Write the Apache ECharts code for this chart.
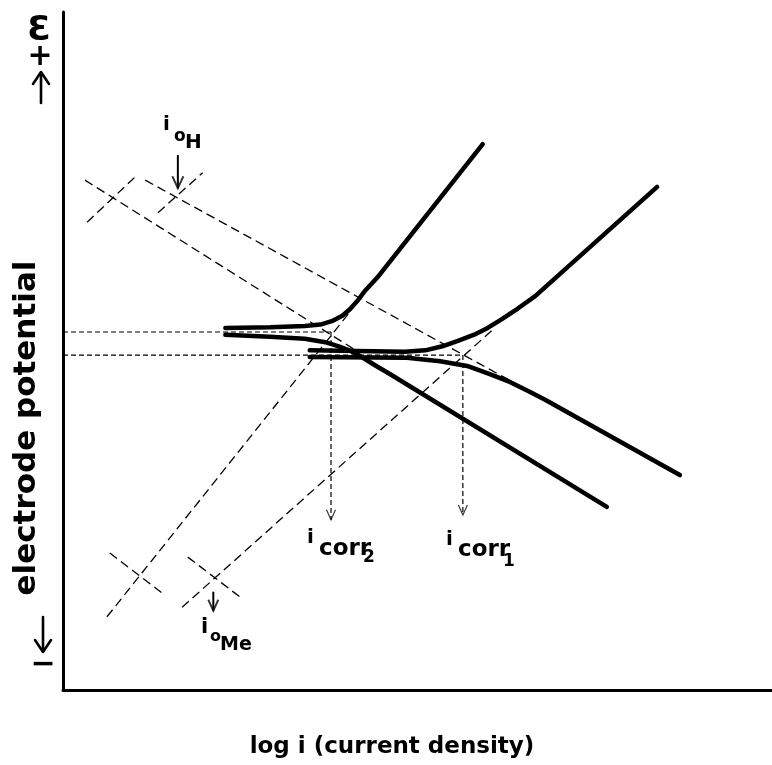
<!DOCTYPE html>
<html><head><meta charset="utf-8">
<script src="https://cdn.jsdelivr.net/npm/echarts@6/dist/echarts.min.js"></script>
<style>html,body{margin:0;padding:0;background:#fff}#c{width:772px;height:765px}</style>
</head><body><div id="c"></div>
<script>
// ---- Data (x: log i, y: electrode potential; arbitrary units) ----
// Solid polarization curves
const curveA_x = [2.29, 2.92, 3.41, 3.63, 3.79, 3.94, 4.05, 4.16, 4.27, 4.43, 5.92];
const curveA_y = [5.34, 5.35, 5.37, 5.39, 5.44, 5.52, 5.62, 5.75, 5.90, 6.08, 8.05];
const curveB_x = [2.29, 2.92, 3.41, 3.70, 3.91, 4.08, 4.23, 4.40, 4.61, 7.67];
const curveB_y = [5.24, 5.21, 5.18, 5.13, 5.06, 4.99, 4.90, 4.79, 4.66, 2.70];
const curveC_x = [3.48, 4.82, 5.11, 5.35, 5.57, 5.80, 5.99, 6.19, 6.42, 6.66, 8.38];
const curveC_y = [5.01, 4.99, 5.01, 5.07, 5.15, 5.24, 5.34, 5.47, 5.63, 5.81, 7.42];
const curveD_x = [3.48, 4.85, 5.32, 5.70, 6.02, 6.31, 6.56, 6.80, 8.70];
const curveD_y = [4.91, 4.90, 4.85, 4.78, 4.66, 4.54, 4.41, 4.28, 3.17];
// Tafel extrapolations (dashed)
const hTafel1_x = [0.31, 4.19], hTafel1_y = [7.52, 4.97];
const hTafel2_x = [1.16, 6.47], hTafel2_y = [7.52, 4.47];
const hTick1_x = [0.34, 1.02], hTick1_y = [6.90, 7.57];
const hTick2_x = [1.34, 1.97], hTick2_y = [7.04, 7.63];
const meTafel1_x = [0.62, 4.05], meTafel1_y = [1.08, 5.58];
const meTafel2_x = [1.68, 6.09], meTafel2_y = [1.22, 5.34];
const meTick1_x = [0.66, 1.41], meTick1_y = [2.02, 1.42];
const meTick2_x = [1.76, 2.51], meTick2_y = [1.96, 1.36];
// Corrosion potential / current construction lines
const ecorr2_x = [0, 3.78], ecorr2_y = [5.28, 5.28];
const ecorr1_x = [0, 5.64], ecorr1_y = [4.94, 4.94];
const icorr2_x = [3.78, 3.78], icorr2_y = [5.28, 2.51];
const icorr1_x = [5.64, 5.64], icorr1_y = [4.94, 2.58];
// Exchange current arrows
const ioH_x = [1.62, 1.62], ioH_y = [7.89, 7.40];
const ioMe_x = [2.12, 2.12], ioMe_y = [1.45, 1.17];

const zip = (xs, ys) => xs.map((x, i) => [x, ys[i]]);
const solid = (xs, ys) => ({
  type: 'line', data: zip(xs, ys), showSymbol: false, symbol: 'none', smooth: false,
  lineStyle: { color: '#000', width: 4.5, cap: 'round', join: 'round' }, silent: true, z: 5
});
const dashed = (xs, ys, dash, w) => ({
  type: 'line', data: zip(xs, ys), showSymbol: false, symbol: 'none',
  lineStyle: { color: '#000', width: w || 1.3, type: dash || [9, 5] }, silent: true, z: 3
});
const plain = (xs, ys, w) => ({
  type: 'line', data: zip(xs, ys), showSymbol: false, symbol: 'none',
  lineStyle: { color: '#000', width: w }, silent: true, z: 4
});
const head = (xs, ys, size, w) => ({
  type: 'scatter', data: [[xs[xs.length - 1], ys[ys.length - 1]]],
  symbol: 'path://M0,0L5,10L10,0', symbolSize: size, symbolOffset: [0, -size[1] / 2],
  itemStyle: { color: 'rgba(0,0,0,0)', borderColor: '#000', borderWidth: w },
  silent: true, z: 6
});

const chart = echarts.init(document.getElementById('c'), null, { renderer: 'canvas' });
const F = '"DejaVu Sans", sans-serif';
const txt = (text, x, y, size, extra) => Object.assign({
  type: 'text', x: x, y: y, silent: true,
  style: Object.assign({ text: text, font: 'bold ' + size + 'px ' + F, fill: '#000',
    align: 'left', verticalAlign: 'middle' }, extra || {})
});
const seg = (pts, w) => ({ type: 'polyline', silent: true, shape: { points: pts },
  style: { stroke: '#000', lineWidth: w, fill: null, lineCap: 'round', lineJoin: 'round' } });

chart.setOption({
  animation: false,
  backgroundColor: '#fff',
  grid: { left: 63, right: 0, top: 12, bottom: 75 },
  xAxis: { type: 'value', min: 0, max: 10, axisLine: { show: true, onZero: false, lineStyle: { color: '#000', width: 3 } },
    axisTick: { show: false }, axisLabel: { show: false }, splitLine: { show: false } },
  yAxis: { type: 'value', min: 0, max: 10, axisLine: { show: true, onZero: false, lineStyle: { color: '#000', width: 3 } },
    axisTick: { show: false }, axisLabel: { show: false }, splitLine: { show: false } },
  series: [
    dashed(hTafel1_x, hTafel1_y), dashed(hTafel2_x, hTafel2_y),
    dashed(hTick1_x, hTick1_y), dashed(hTick2_x, hTick2_y),
    dashed(meTafel1_x, meTafel1_y), dashed(meTafel2_x, meTafel2_y),
    dashed(meTick1_x, meTick1_y), dashed(meTick2_x, meTick2_y),
    dashed(ecorr2_x, ecorr2_y, [5, 3], 1.2), dashed(ecorr1_x, ecorr1_y, [5, 3], 1.2),
    dashed(icorr2_x, icorr2_y, [5, 3], 1.2), dashed(icorr1_x, icorr1_y, [5, 3], 1.2),
    head(icorr2_x, icorr2_y, [9, 10], 1.2), head(icorr1_x, icorr1_y, [9, 10], 1.2),
    plain(ioH_x, ioH_y, 2), head(ioH_x, ioH_y, [11, 12], 2),
    plain(ioMe_x, ioMe_y, 2), head(ioMe_x, ioMe_y, [10, 11], 2),
    solid(curveA_x, curveA_y), solid(curveB_x, curveB_y),
    solid(curveC_x, curveC_y), solid(curveD_x, curveD_y)
  ],
  graphic: [
    // axis titles
    { type: 'text', x: 27, y: 428, rotation: Math.PI / 2, silent: true,
      style: { text: 'electrode potential', font: 'bold 31px ' + F, fill: '#000', align: 'center', verticalAlign: 'middle' } },
    txt('log i (current density)', 392, 747, 23, { align: 'center' }),
    // potential direction signs
    txt('Ɛ', 39, 31, 34, { align: 'center' }),
    txt('+', 40, 57, 30, { align: 'center' }),
    seg([[41, 103], [41, 73]], 2.6),
    seg([[33, 84], [41, 72], [49, 84]], 2.6),
    seg([[43, 617], [43, 651]], 2.6),
    seg([[35, 640], [43, 652], [51, 640]], 2.6),
    txt('−', 43, 665, 30, { align: 'center' }),
    // annotations
    txt('i', 163, 125, 20), txt('o', 174, 137, 17), txt('H', 185, 143, 20),
    txt('i', 201, 628, 21), txt('o', 210, 637, 16), txt('Me', 220, 645, 19),
    txt('i', 307, 538, 20), txt('corr', 319, 549, 23), txt('2', 363, 558, 17),
    txt('i', 446, 540, 20), txt('corr', 458, 550, 23), txt('1', 503, 562, 17)
  ]
});
</script>
</body></html>
